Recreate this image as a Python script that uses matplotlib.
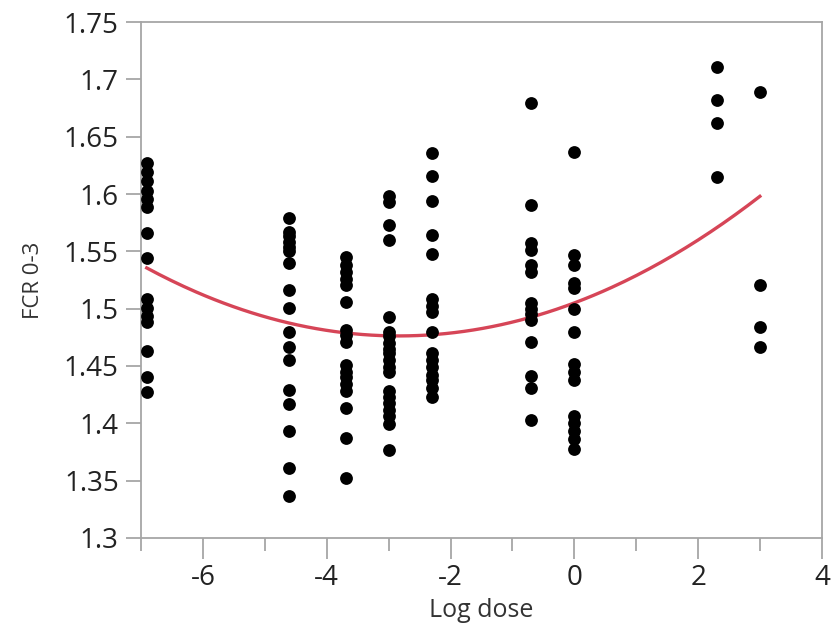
import numpy as np
import matplotlib
matplotlib.use("Agg")
import matplotlib.pyplot as plt
from matplotlib.ticker import MultipleLocator, FormatStrFormatter

# dose levels (natural log of dose)
log_dose = [-6.908, -4.605, -3.689, -2.996, -2.303, -0.693, 0.0, 2.303, 2.996]

# FCR 0-3 for each dose group
fcr_m6_9 = [1.627, 1.619, 1.611, 1.603, 1.596, 1.589, 1.566, 1.544,
            1.508, 1.501, 1.494, 1.488, 1.463, 1.440, 1.427]
fcr_m4_6 = [1.579, 1.567, 1.563, 1.558, 1.554, 1.550, 1.540, 1.516, 1.501,
            1.480, 1.467, 1.455, 1.429, 1.417, 1.393, 1.361, 1.337]
fcr_m3_7 = [1.545, 1.538, 1.532, 1.526, 1.521, 1.506, 1.481, 1.477, 1.471,
            1.451, 1.445, 1.440, 1.434, 1.428, 1.413, 1.387, 1.352]
fcr_m3_0 = [1.598, 1.593, 1.573, 1.560, 1.493, 1.480, 1.476, 1.470, 1.465,
            1.461, 1.455, 1.449, 1.445, 1.428, 1.423, 1.418, 1.412, 1.406,
            1.399, 1.377]
fcr_m2_3 = [1.636, 1.616, 1.594, 1.564, 1.548, 1.508, 1.502, 1.497, 1.480,
            1.461, 1.455, 1.449, 1.442, 1.438, 1.431, 1.423]
fcr_m0_7 = [1.679, 1.590, 1.557, 1.551, 1.538, 1.532, 1.505, 1.500, 1.495,
            1.490, 1.471, 1.441, 1.431, 1.403]
fcr_0 = [1.637, 1.547, 1.538, 1.522, 1.518, 1.500, 1.480, 1.452, 1.445,
         1.438, 1.406, 1.400, 1.393, 1.386, 1.378]
fcr_2_3 = [1.711, 1.682, 1.662, 1.615]
fcr_3_0 = [1.689, 1.521, 1.484, 1.467]

groups = [fcr_m6_9, fcr_m4_6, fcr_m3_7, fcr_m3_0, fcr_m2_3,
          fcr_m0_7, fcr_0, fcr_2_3, fcr_3_0]

x = np.concatenate([[d] * len(g) for d, g in zip(log_dose, groups)])
y = np.concatenate(groups)

# quadratic fit
coef = np.polyfit(x, y, 2)
xs = np.linspace(min(log_dose), max(log_dose), 200)
ys = np.polyval(coef, xs)

plt.rcParams['font.family'] = ['Open Sans', 'DejaVu Sans']
plt.rcParams['axes.unicode_minus'] = False

fig = plt.figure(figsize=(8.32, 6.36), dpi=100)
ax = fig.add_axes([0.1695, 0.1541, 0.8185, 0.8113])

ax.scatter(x, y, s=85, color="black", zorder=3, linewidths=0)
ax.plot(xs, ys, color="#d64557", lw=2.4, zorder=2)

ax.set_xlim(-7, 4)
ax.set_ylim(1.3, 1.75)
ax.xaxis.set_major_locator(MultipleLocator(2))
ax.xaxis.set_minor_locator(MultipleLocator(1))
ax.yaxis.set_major_locator(MultipleLocator(0.05))
ax.yaxis.set_major_formatter(FormatStrFormatter('%g'))

gray = "#a6a6a6"
for s in ax.spines.values():
    s.set_color(gray)
    s.set_linewidth(1.3)
ax.tick_params(axis='x', which='major', length=15, width=1.3, color=gray,
               labelsize=20, labelcolor="#222222", pad=4)
ax.tick_params(axis='x', which='minor', length=9, width=1.3, color=gray)
ax.tick_params(axis='y', which='major', length=11, width=1.3, color=gray,
               labelsize=20, labelcolor="#222222", pad=5)

ax.set_xlabel("Log dose", fontsize=18, color="#333333", labelpad=4)
ax.set_ylabel("FCR 0-3", fontsize=16, color="#333333", labelpad=14)

fig.savefig("out.png", dpi=100)
